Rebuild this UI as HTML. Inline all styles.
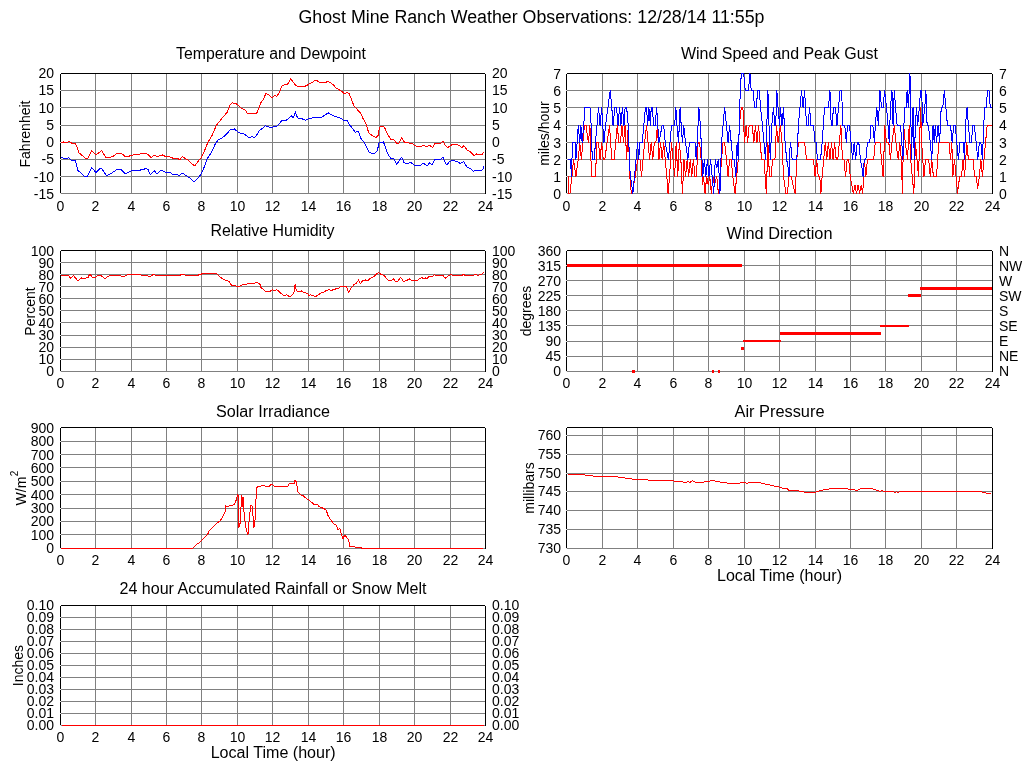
<!DOCTYPE html>
<html><head><meta charset="utf-8"><title>Ghost Mine Ranch Weather Observations</title>
<style>html,body{margin:0;padding:0;background:#fff;width:1024px;height:768px;overflow:hidden}
svg{display:block;will-change:transform} text{font-family:'Liberation Sans', Arial, Helvetica, sans-serif;fill:#000}</style></head>
<body><svg width="1024" height="768" viewBox="0 0 1024 768" shape-rendering="crispEdges">

<rect width="1024" height="768" fill="#fff"/>
<rect x="95" y="74" width="1" height="120" fill="#808080"/>
<rect x="131" y="74" width="1" height="120" fill="#808080"/>
<rect x="166" y="74" width="1" height="120" fill="#808080"/>
<rect x="201" y="74" width="1" height="120" fill="#808080"/>
<rect x="237" y="74" width="1" height="120" fill="#808080"/>
<rect x="272" y="74" width="1" height="120" fill="#808080"/>
<rect x="308" y="74" width="1" height="120" fill="#808080"/>
<rect x="343" y="74" width="1" height="120" fill="#808080"/>
<rect x="379" y="74" width="1" height="120" fill="#808080"/>
<rect x="414" y="74" width="1" height="120" fill="#808080"/>
<rect x="450" y="74" width="1" height="120" fill="#808080"/>
<rect x="61" y="73" width="424" height="1" fill="#000"/>
<rect x="60" y="74" width="1" height="119" fill="#000"/>
<rect x="485" y="74" width="1" height="120" fill="#000"/>
<rect x="61" y="90" width="424" height="1" fill="#808080"/>
<rect x="60" y="90" width="1" height="1" fill="#e4e4e4"/>
<rect x="61" y="107" width="424" height="1" fill="#808080"/>
<rect x="60" y="107" width="1" height="1" fill="#e4e4e4"/>
<rect x="61" y="125" width="424" height="1" fill="#808080"/>
<rect x="60" y="125" width="1" height="1" fill="#e4e4e4"/>
<rect x="61" y="142" width="424" height="1" fill="#808080"/>
<rect x="60" y="142" width="1" height="1" fill="#e4e4e4"/>
<rect x="61" y="159" width="424" height="1" fill="#808080"/>
<rect x="60" y="159" width="1" height="1" fill="#e4e4e4"/>
<rect x="61" y="176" width="424" height="1" fill="#808080"/>
<rect x="60" y="176" width="1" height="1" fill="#e4e4e4"/>
<rect x="61" y="193" width="424" height="1" fill="#808080"/>
<rect x="60" y="193" width="1" height="1" fill="#e4e4e4"/>
<polyline points="61.25,142.38 63.5,142.0 66.62,142.75 69.12,141.12 71.62,143.25 75.38,143.62 77.25,147.38 79.12,153.0 82.25,155.5 85.38,158.25 87.88,158.62 91.62,150.75 96.0,154.88 101.62,150.75 106.0,157.38 109.75,157.38 112.88,156.5 117.25,153.25 121.0,153.0 125.38,156.75 128.5,156.75 130.38,155.5 132.25,155.5 135.38,154.0 137.88,154.88 141.0,153.62 144.75,153.0 147.88,154.25 151.0,157.75 154.12,154.88 157.25,156.75 162.25,154.88 166.0,156.75 168.5,156.12 171.0,157.38 174.12,158.62 177.25,158.25 179.75,159.88 182.25,156.75 188.41,160.22 191.53,163.34 194.66,166.0 197.78,161.78 201.69,157.09 204.81,150.06 207.94,142.25 211.84,136.0 214.19,130.53 216.53,125.06 219.66,121.16 223.56,116.47 227.47,111.78 229.81,105.53 232.16,102.88 235.28,103.19 238.41,105.53 241.53,108.66 244.66,109.44 247.78,113.81 251.69,113.81 256.38,113.81 258.72,108.66 261.06,102.41 263.41,99.28 265.75,93.81 268.88,94.59 272.0,97.72 274.34,95.38 276.69,96.16 279.03,93.03 282.16,85.69 285.28,84.75 287.62,84.12 290.75,78.97 293.09,82.09 295.44,85.22 298.56,86.78 303.25,86.78 306.38,85.69 309.5,83.66 312.62,82.09 315.44,80.06 318.09,81.31 320.44,82.88 324.34,82.88 327.47,81.62 330.59,82.56 333.72,85.22 336.06,87.88 339.19,89.59 340.5,90.69 342.84,92.25 344.41,93.81 347.53,92.56 349.09,93.5 351.44,99.28 353.78,105.53 356.91,109.12 360.81,113.34 363.16,118.81 366.28,124.28 368.62,132.56 371.75,135.22 375.66,137.56 378.0,135.69 379.56,127.41 381.44,126.31 384.25,126.94 387.38,133.66 390.5,139.12 393.62,139.12 396.75,143.5 399.09,143.03 401.75,137.88 404.56,142.25 409.25,143.03 412.38,143.81 415.5,145.69 418.62,146.94 420.97,146.62 423.31,145.06 426.44,146.62 429.56,145.38 432.69,147.72 435.03,143.5 437.38,143.03 440.5,143.5 442.84,141.0 445.19,145.38 447.53,147.72 449.88,146.16 453.0,144.12 456.12,144.59 459.25,145.38 461.59,147.72 463.94,145.69 467.06,150.06 470.19,151.62 474.09,155.53 476.44,153.97 479.56,154.44 481.91,154.75 483.94,151.94" fill="none" stroke="#ff0000" stroke-width="1" stroke-linejoin="round"/>
<polyline points="61.25,157.75 66.0,158.62 68.5,157.75 71.0,160.25 75.38,160.5 77.88,170.5 81.0,173.0 84.75,176.5 87.25,176.75 91.62,167.75 96.0,172.38 101.0,167.75 106.62,175.75 111.0,173.62 117.25,169.25 121.0,169.25 125.38,174.0 129.75,171.75 132.88,170.25 137.25,170.75 141.0,169.88 146.0,168.62 147.88,169.25 150.38,174.88 154.12,170.75 157.25,174.0 160.38,170.75 164.12,171.12 166.0,173.0 169.75,172.0 172.88,174.88 176.62,174.0 179.12,175.75 182.25,173.0 187.62,176.62 190.75,178.5 193.88,181.62 196.22,180.06 199.34,176.62 202.47,171.16 204.81,165.69 207.16,158.66 210.28,153.97 212.62,150.06 214.97,144.59 218.09,139.91 222.0,137.88 225.12,135.69 228.25,132.09 230.59,129.44 234.5,128.97 238.41,132.56 241.53,133.66 244.66,134.12 248.56,137.56 251.69,136.78 254.81,137.56 257.16,134.44 259.5,130.53 262.62,128.19 264.97,125.84 268.09,126.62 270.44,127.88 273.56,126.62 277.47,125.84 279.81,123.19 282.16,120.06 285.28,120.69 288.41,118.81 291.53,115.69 293.09,118.03 294.66,114.91 295.44,111.78 296.22,114.91 298.25,118.81 300.91,118.03 303.25,119.59 305.59,120.06 308.72,118.81 311.84,118.03 314.19,117.25 317.31,118.03 322.0,116.94 325.12,114.91 328.25,112.88 330.59,114.12 333.72,116.0 336.84,116.94 339.97,118.03 340.5,118.03 343.62,120.38 346.75,120.06 349.09,124.28 352.22,128.19 355.34,132.09 358.47,131.62 360.81,138.34 363.94,142.25 366.28,146.16 368.62,151.62 371.75,153.5 374.09,153.97 377.22,150.84 379.25,142.25 381.12,143.03 383.47,141.94 385.81,148.5 388.16,154.75 391.28,158.66 393.62,158.66 396.75,164.12 399.09,161.0 401.75,157.09 403.78,162.25 406.91,163.81 410.81,162.56 413.94,164.91 417.84,166.0 420.19,165.38 423.31,163.34 427.22,165.69 429.56,162.88 431.91,164.91 435.03,159.44 437.38,159.44 440.5,159.75 442.84,157.09 444.41,161.0 446.75,164.91 449.88,161.31 453.0,160.69 456.91,161.31 460.03,163.34 463.94,161.78 467.06,167.25 470.97,169.12 473.31,171.16 476.44,170.06 480.34,170.69 482.69,169.59 484.25,165.69" fill="none" stroke="#0000ff" stroke-width="1" stroke-linejoin="round"/>
<rect x="602" y="74" width="1" height="120" fill="#808080"/>
<rect x="637" y="74" width="1" height="120" fill="#808080"/>
<rect x="673" y="74" width="1" height="120" fill="#808080"/>
<rect x="708" y="74" width="1" height="120" fill="#808080"/>
<rect x="744" y="74" width="1" height="120" fill="#808080"/>
<rect x="779" y="74" width="1" height="120" fill="#808080"/>
<rect x="815" y="74" width="1" height="120" fill="#808080"/>
<rect x="850" y="74" width="1" height="120" fill="#808080"/>
<rect x="885" y="74" width="1" height="120" fill="#808080"/>
<rect x="921" y="74" width="1" height="120" fill="#808080"/>
<rect x="956" y="74" width="1" height="120" fill="#808080"/>
<rect x="567" y="73" width="425" height="1" fill="#000"/>
<rect x="566" y="74" width="1" height="119" fill="#000"/>
<rect x="992" y="74" width="1" height="120" fill="#000"/>
<rect x="567" y="90" width="425" height="1" fill="#808080"/>
<rect x="566" y="90" width="1" height="1" fill="#e4e4e4"/>
<rect x="567" y="107" width="425" height="1" fill="#808080"/>
<rect x="566" y="107" width="1" height="1" fill="#e4e4e4"/>
<rect x="567" y="125" width="425" height="1" fill="#808080"/>
<rect x="566" y="125" width="1" height="1" fill="#e4e4e4"/>
<rect x="567" y="142" width="425" height="1" fill="#808080"/>
<rect x="566" y="142" width="1" height="1" fill="#e4e4e4"/>
<rect x="567" y="159" width="425" height="1" fill="#808080"/>
<rect x="566" y="159" width="1" height="1" fill="#e4e4e4"/>
<rect x="567" y="176" width="425" height="1" fill="#808080"/>
<rect x="566" y="176" width="1" height="1" fill="#e4e4e4"/>
<rect x="567" y="193" width="425" height="1" fill="#808080"/>
<rect x="566" y="193" width="1" height="1" fill="#e4e4e4"/>
<polyline points="568.53,176.5 568.69,193.5 569.94,193.5 571.97,176.5 573.53,159.5 575.88,176.5 578.22,159.5 579.78,142.5 581.34,159.5 582.91,142.5 584.47,125.5 586.03,125.5 588.38,142.5 589.94,125.5 591.5,176.5 593.06,176.5 595.41,176.5 596.97,142.5 598.53,142.5 600.09,159.5 601.66,142.5 603.22,159.5 604.78,159.5 607.12,142.5 609.47,125.5 611.81,159.5 614.16,159.5 615.72,142.5 617.28,125.5 618.84,142.5 620.41,142.5 621.97,125.5 623.53,142.5 625.09,125.5 626.66,159.5 628.22,125.5 629.78,176.5 631.34,193.5 633.69,185.0 635.25,176.5 637.59,159.5 639.94,159.5 641.5,176.5 643.06,159.5 644.62,142.5 646.5,125.5 648.06,142.5 649.62,159.5 651.19,142.5 652.75,159.5 654.31,142.5 655.88,142.5 657.44,125.5 659.0,159.5 660.56,142.5 662.12,159.5 663.69,142.5 665.25,159.5 666.81,176.5 668.06,193.5 669.62,176.5 671.5,142.5 673.06,159.5 674.62,176.5 676.19,142.5 677.75,176.5 679.31,142.5 680.88,159.5 682.44,193.5 684.0,159.5 685.56,176.5 687.12,159.5 688.69,176.5 690.25,159.5 691.81,176.5 693.38,159.5 694.94,176.5 696.5,176.5 698.06,142.5 699.62,142.5 701.19,159.5 702.44,185.0 703.53,176.5 705.09,193.5 706.66,176.5 708.22,185.0 709.78,176.5 711.34,193.5 712.91,176.5 714.47,185.0 716.81,176.5 718.38,193.5 719.94,185.0 721.5,159.5 723.06,142.5 724.62,142.5 726.5,159.5 728.06,176.5 729.62,159.5 731.19,159.5 732.75,176.5 735.09,193.5 736.66,176.5 738.22,159.5 739.31,125.5 741.34,107.5 742.91,107.5 744.47,142.5 746.03,125.5 747.59,142.5 749.16,125.5 750.72,125.5 752.28,125.5 753.84,142.5 755.41,125.5 756.97,142.5 758.53,125.5 760.09,142.5 761.66,159.5 764.0,159.5 766.34,193.5 767.91,142.5 769.47,176.5 771.03,176.5 772.59,159.5 774.94,159.5 776.5,125.5 778.06,142.5 780.41,125.5 781.97,142.5 783.53,176.5 785.88,193.5 787.44,193.5 789.0,176.5 791.34,176.5 792.91,185.0 795.25,193.5 796.81,159.5 798.38,142.5 799.94,142.5 803.06,142.5 804.62,142.5 806.5,159.5 813.53,159.5 815.09,176.5 816.66,159.5 818.22,176.5 819.78,176.5 820.88,193.5 822.12,176.5 823.69,159.5 825.25,142.5 826.81,159.5 828.38,142.5 829.94,159.5 831.5,142.5 833.06,159.5 834.62,142.5 836.19,159.5 837.75,159.5 839.31,142.5 840.88,125.5 842.44,159.5 844.0,159.5 845.56,176.5 847.12,159.5 848.69,159.5 850.25,176.5 851.81,185.0 853.38,193.5 854.94,185.0 856.5,193.5 858.06,185.0 859.62,193.5 861.19,185.0 862.75,193.5 864.31,159.5 865.88,176.5 867.44,159.5 869.0,159.5 873.69,159.5 875.25,142.5 879.94,142.5 883.06,176.5 883.84,159.5 884.62,125.5 886.5,142.5 888.84,142.5 890.41,159.5 891.97,142.5 894.31,125.5 895.88,142.5 898.22,159.5 899.78,142.5 901.34,159.5 902.44,193.5 903.69,125.5 905.25,142.5 907.59,159.5 909.16,125.5 910.72,159.5 912.28,176.5 913.84,193.5 915.41,142.5 916.97,159.5 918.53,176.5 919.62,142.5 920.56,107.5 921.66,142.5 922.75,159.5 924.0,176.5 925.56,159.5 927.12,159.5 928.69,159.5 930.25,176.5 931.81,159.5 933.38,176.5 934.94,176.5 936.5,176.5 938.84,142.5 940.41,142.5 945.88,142.5 949.0,142.5 950.56,159.5 951.81,142.5 952.91,176.5 954.47,159.5 956.03,176.5 957.59,193.5 958.38,185.0 959.94,176.5 961.5,176.5 963.06,159.5 964.62,176.5 966.81,142.5 968.38,159.5 971.5,159.5 973.06,159.5 974.62,176.5 976.19,176.5 977.75,188.4 979.31,176.5 980.88,159.5 982.44,176.5 984.0,159.5 985.56,142.5 987.12,125.5 989.47,125.5 991.5,125.5" fill="none" stroke="#ff0000" stroke-width="1" stroke-linejoin="round"/>
<polyline points="567.59,159.5 570.41,159.5 571.5,176.5 572.44,142.5 575.09,142.5 575.88,159.5 577.12,142.5 578.22,125.5 579.78,142.5 580.88,125.5 582.12,142.5 583.69,125.5 584.94,107.5 589.94,107.5 591.19,125.5 592.28,159.5 594.31,159.5 595.41,142.5 596.97,125.5 598.53,107.5 600.09,125.5 601.66,107.5 602.75,125.5 604.0,142.5 605.56,125.5 607.91,107.5 610.25,90.5 611.81,107.5 613.06,125.5 614.94,107.5 616.5,107.5 618.06,125.5 619.62,107.5 620.88,125.5 622.44,107.5 624.0,125.5 625.09,107.5 626.66,107.5 628.22,125.5 629.78,168.0 630.56,176.5 632.91,193.5 634.47,176.5 636.03,159.5 637.59,142.5 638.69,159.5 639.94,142.5 642.28,142.5 643.84,125.5 645.41,107.5 646.5,107.5 647.75,125.5 648.84,107.5 650.41,125.5 651.19,107.5 652.44,107.5 653.53,125.5 655.09,125.5 656.66,107.5 657.75,125.5 659.0,142.5 660.56,134.0 662.12,125.5 663.69,125.5 665.25,142.5 668.38,159.5 669.94,142.5 671.5,125.5 674.62,125.5 675.88,107.5 676.97,125.5 678.53,142.5 680.09,107.5 681.19,125.5 682.44,142.5 683.69,125.5 685.56,142.5 687.91,159.5 689.47,142.5 693.38,142.5 694.94,142.5 696.19,159.5 697.28,142.5 698.84,107.5 700.41,125.5 701.97,159.5 702.75,176.5 704.31,159.5 705.88,176.5 707.44,159.5 709.0,176.5 710.56,159.5 712.12,176.5 713.69,193.5 715.25,159.5 716.81,168.0 718.38,159.5 719.94,193.5 721.5,142.5 723.06,125.5 724.62,107.5 726.5,125.5 728.06,142.5 729.62,125.5 731.19,142.5 732.75,159.5 734.31,159.5 735.88,176.5 737.12,142.5 738.22,159.5 739.31,125.5 740.25,90.5 741.34,73.5 743.69,73.5 745.25,90.5 746.81,90.5 748.38,90.5 749.94,73.5 751.19,90.5 753.06,90.5 754.62,107.5 756.19,107.5 757.75,90.5 759.31,90.5 760.56,107.5 762.44,125.5 764.0,142.5 765.56,159.5 766.81,125.5 767.91,90.5 769.0,125.5 770.25,159.5 771.81,125.5 773.38,107.5 774.94,125.5 775.72,125.5 776.81,90.5 778.06,107.5 779.62,125.5 780.41,107.5 781.97,125.5 783.53,107.5 785.09,142.5 786.66,159.5 788.22,168.0 789.0,176.5 789.78,151.0 790.56,142.5 792.12,159.5 795.25,159.5 796.81,159.5 798.38,125.5 799.94,107.5 801.5,90.5 803.06,107.5 804.62,90.5 806.5,125.5 808.06,125.5 809.62,107.5 810.88,125.5 813.53,125.5 815.09,142.5 816.19,142.5 817.44,159.5 819.0,159.5 820.56,159.5 822.12,142.5 823.38,125.5 824.47,107.5 828.38,107.5 829.94,90.5 831.19,125.5 832.28,125.5 833.38,107.5 835.41,107.5 836.97,125.5 838.53,107.5 840.09,90.5 841.66,90.5 842.75,125.5 844.78,125.5 846.34,142.5 847.44,125.5 849.47,125.5 851.03,142.5 852.59,159.5 854.16,142.5 855.72,159.5 857.28,142.5 858.84,142.5 860.41,159.5 861.97,168.0 863.06,176.5 864.31,159.5 865.88,159.5 867.44,142.5 869.78,142.5 870.88,125.5 872.91,125.5 874.47,142.5 875.25,125.5 876.81,107.5 878.38,125.5 879.94,90.5 881.5,107.5 883.06,107.5 884.62,90.5 886.5,107.5 888.06,125.5 889.31,142.5 890.41,107.5 891.97,90.5 893.06,125.5 894.31,90.5 895.56,107.5 897.12,125.5 899.0,125.5 900.56,125.5 901.81,142.5 902.91,159.5 904.47,107.5 906.03,107.5 907.12,90.5 908.38,107.5 909.16,90.5 909.94,73.5 910.72,107.5 911.5,159.5 912.28,125.5 913.06,107.5 914.31,159.5 915.41,125.5 916.5,107.5 917.75,125.5 919.31,107.5 920.56,90.5 921.66,90.5 922.75,125.5 924.78,107.5 925.88,90.5 927.12,125.5 928.38,125.5 930.25,142.5 931.81,159.5 933.06,125.5 934.16,142.5 935.25,125.5 936.5,142.5 938.06,125.5 939.62,142.5 941.19,107.5 942.75,107.5 944.31,90.5 945.88,107.5 947.44,125.5 949.0,125.5 950.56,125.5 952.12,142.5 953.69,125.5 955.25,125.5 956.81,142.5 958.38,159.5 959.94,142.5 961.5,142.5 963.06,142.5 964.62,159.5 965.41,125.5 967.12,107.5 968.38,125.5 969.94,142.5 971.5,142.5 972.75,125.5 974.31,125.5 976.19,142.5 977.75,159.5 979.31,142.5 980.88,142.5 982.44,159.5 983.69,125.5 984.78,107.5 986.34,107.5 987.44,90.5 989.0,90.5 990.25,107.5 991.5,107.5" fill="none" stroke="#0000ff" stroke-width="1" stroke-linejoin="round"/>
<rect x="95" y="251" width="1" height="121" fill="#808080"/>
<rect x="131" y="251" width="1" height="121" fill="#808080"/>
<rect x="166" y="251" width="1" height="121" fill="#808080"/>
<rect x="201" y="251" width="1" height="121" fill="#808080"/>
<rect x="237" y="251" width="1" height="121" fill="#808080"/>
<rect x="272" y="251" width="1" height="121" fill="#808080"/>
<rect x="308" y="251" width="1" height="121" fill="#808080"/>
<rect x="343" y="251" width="1" height="121" fill="#808080"/>
<rect x="379" y="251" width="1" height="121" fill="#808080"/>
<rect x="414" y="251" width="1" height="121" fill="#808080"/>
<rect x="450" y="251" width="1" height="121" fill="#808080"/>
<rect x="61" y="250" width="424" height="1" fill="#000"/>
<rect x="60" y="251" width="1" height="120" fill="#000"/>
<rect x="485" y="251" width="1" height="121" fill="#000"/>
<rect x="61" y="262" width="424" height="1" fill="#808080"/>
<rect x="60" y="262" width="1" height="1" fill="#e4e4e4"/>
<rect x="61" y="274" width="424" height="1" fill="#808080"/>
<rect x="60" y="274" width="1" height="1" fill="#e4e4e4"/>
<rect x="61" y="286" width="424" height="1" fill="#808080"/>
<rect x="60" y="286" width="1" height="1" fill="#e4e4e4"/>
<rect x="61" y="298" width="424" height="1" fill="#808080"/>
<rect x="60" y="298" width="1" height="1" fill="#e4e4e4"/>
<rect x="61" y="310" width="424" height="1" fill="#808080"/>
<rect x="60" y="310" width="1" height="1" fill="#e4e4e4"/>
<rect x="61" y="322" width="424" height="1" fill="#808080"/>
<rect x="60" y="322" width="1" height="1" fill="#e4e4e4"/>
<rect x="61" y="335" width="424" height="1" fill="#808080"/>
<rect x="60" y="335" width="1" height="1" fill="#e4e4e4"/>
<rect x="61" y="347" width="424" height="1" fill="#808080"/>
<rect x="60" y="347" width="1" height="1" fill="#e4e4e4"/>
<rect x="61" y="359" width="424" height="1" fill="#808080"/>
<rect x="60" y="359" width="1" height="1" fill="#e4e4e4"/>
<rect x="61" y="371" width="424" height="1" fill="#808080"/>
<rect x="60" y="371" width="1" height="1" fill="#e4e4e4"/>
<polyline points="61.25,275.0 67.88,275.0 70.75,278.12 73.5,275.62 77.25,280.0 79.12,280.0 81.62,277.75 83.5,278.75 85.38,278.12 87.88,277.75 89.75,274.0 92.88,277.75 95.38,277.75 97.88,275.0 100.38,275.0 105.0,279.0 107.25,276.88 109.75,275.62 112.25,275.62 113.5,275.0 119.75,275.0 122.25,276.88 124.12,276.5 126.62,275.0 132.25,274.38 134.75,274.38 136.62,275.0 139.12,274.38 141.0,275.0 147.25,275.0 149.12,276.88 151.62,275.62 154.12,274.0 155.38,275.62 157.88,275.0 163.5,275.0 165.38,276.0 167.88,275.0 171.0,275.0 172.88,276.0 175.38,275.0 177.25,275.0 179.12,276.0 181.62,274.0 183.5,275.0 184.5,274.75 187.0,275.62 189.5,275.62 196.38,275.62 200.75,274.38 203.25,273.12 208.88,273.12 210.75,274.0 213.25,273.12 217.0,274.0 220.75,277.5 223.88,279.75 227.0,280.62 228.88,281.25 231.75,285.62 235.75,286.0 238.25,286.88 242.0,285.0 245.12,284.75 247.0,284.0 251.38,283.12 253.25,284.0 255.75,282.75 259.5,283.12 261.38,288.5 263.25,289.0 265.75,291.88 269.5,291.88 272.0,289.75 274.5,290.62 277.0,289.75 280.75,293.12 283.88,296.0 286.38,294.75 290.12,296.88 292.0,295.25 293.88,292.5 295.12,284.75 295.75,288.12 297.62,291.88 301.38,291.0 303.88,292.75 307.0,293.12 308.88,295.25 310.5,294.75 313.0,295.62 315.5,296.88 318.0,295.0 321.12,292.75 323.62,292.5 326.12,290.62 329.25,289.75 331.12,290.62 333.0,289.75 335.5,289.0 338.0,288.75 340.5,286.88 343.62,286.0 346.12,286.0 347.38,288.75 348.62,292.5 350.5,288.75 353.62,285.0 356.12,283.5 358.62,280.0 360.5,283.75 363.0,280.25 365.5,280.0 367.38,281.0 370.5,278.12 372.38,277.75 375.5,275.0 378.0,272.75 379.88,273.5 381.12,274.75 383.0,275.0 384.88,276.25 386.12,278.5 389.25,281.0 392.38,279.75 393.62,279.0 395.5,281.88 397.38,281.88 399.88,278.12 400.5,277.69 401.91,278.62 403.31,281.44 405.19,280.97 407.53,280.03 409.88,278.81 411.75,280.97 413.62,280.97 415.5,280.31 417.84,280.03 419.72,278.16 422.06,277.88 424.41,278.62 425.81,277.88 427.22,278.62 429.09,276.0 430.5,276.94 431.91,276.75 434.25,274.69 436.59,275.34 438.0,275.81 439.88,275.06 442.69,275.06 444.56,277.69 445.97,278.16 448.31,275.34 450.19,274.88 453.0,275.06 454.88,275.81 457.22,275.34 458.62,275.06 460.5,276.0 462.38,275.06 463.78,274.41 465.19,275.81 467.06,275.06 468.94,275.81 470.34,275.34 471.75,276.0 473.62,275.06 475.5,274.41 476.91,275.06 478.78,275.06 480.19,273.94 481.59,274.88 483.0,273.0 484.41,272.81" fill="none" stroke="#ff0000" stroke-width="1" stroke-linejoin="round"/>
<rect x="602" y="251" width="1" height="121" fill="#808080"/>
<rect x="637" y="251" width="1" height="121" fill="#808080"/>
<rect x="673" y="251" width="1" height="121" fill="#808080"/>
<rect x="708" y="251" width="1" height="121" fill="#808080"/>
<rect x="744" y="251" width="1" height="121" fill="#808080"/>
<rect x="779" y="251" width="1" height="121" fill="#808080"/>
<rect x="815" y="251" width="1" height="121" fill="#808080"/>
<rect x="850" y="251" width="1" height="121" fill="#808080"/>
<rect x="885" y="251" width="1" height="121" fill="#808080"/>
<rect x="921" y="251" width="1" height="121" fill="#808080"/>
<rect x="956" y="251" width="1" height="121" fill="#808080"/>
<rect x="567" y="250" width="425" height="1" fill="#000"/>
<rect x="566" y="251" width="1" height="120" fill="#000"/>
<rect x="992" y="251" width="1" height="121" fill="#000"/>
<rect x="567" y="265" width="425" height="1" fill="#808080"/>
<rect x="566" y="265" width="1" height="1" fill="#e4e4e4"/>
<rect x="567" y="280" width="425" height="1" fill="#808080"/>
<rect x="566" y="280" width="1" height="1" fill="#e4e4e4"/>
<rect x="567" y="295" width="425" height="1" fill="#808080"/>
<rect x="566" y="295" width="1" height="1" fill="#e4e4e4"/>
<rect x="567" y="310" width="425" height="1" fill="#808080"/>
<rect x="566" y="310" width="1" height="1" fill="#e4e4e4"/>
<rect x="567" y="325" width="425" height="1" fill="#808080"/>
<rect x="566" y="325" width="1" height="1" fill="#e4e4e4"/>
<rect x="567" y="341" width="425" height="1" fill="#808080"/>
<rect x="566" y="341" width="1" height="1" fill="#e4e4e4"/>
<rect x="567" y="356" width="425" height="1" fill="#808080"/>
<rect x="566" y="356" width="1" height="1" fill="#e4e4e4"/>
<rect x="567" y="371" width="425" height="1" fill="#808080"/>
<rect x="566" y="371" width="1" height="1" fill="#e4e4e4"/>
<rect x="567" y="264" width="175" height="3" fill="#ff0000"/>
<rect x="741" y="347" width="3" height="3" fill="#ff0000"/>
<rect x="743" y="340" width="38" height="2" fill="#ff0000"/>
<rect x="780" y="332" width="101" height="3" fill="#ff0000"/>
<rect x="880" y="325" width="29" height="2" fill="#ff0000"/>
<rect x="908" y="294" width="13" height="3" fill="#ff0000"/>
<rect x="920" y="287" width="72" height="3" fill="#ff0000"/>
<rect x="632" y="370" width="3" height="3" fill="#ff0000"/>
<rect x="712" y="370" width="2" height="3" fill="#ff0000"/>
<rect x="718" y="370" width="2" height="3" fill="#ff0000"/>
<rect x="95" y="428" width="1" height="121" fill="#808080"/>
<rect x="131" y="428" width="1" height="121" fill="#808080"/>
<rect x="166" y="428" width="1" height="121" fill="#808080"/>
<rect x="201" y="428" width="1" height="121" fill="#808080"/>
<rect x="237" y="428" width="1" height="121" fill="#808080"/>
<rect x="272" y="428" width="1" height="121" fill="#808080"/>
<rect x="308" y="428" width="1" height="121" fill="#808080"/>
<rect x="343" y="428" width="1" height="121" fill="#808080"/>
<rect x="379" y="428" width="1" height="121" fill="#808080"/>
<rect x="414" y="428" width="1" height="121" fill="#808080"/>
<rect x="450" y="428" width="1" height="121" fill="#808080"/>
<rect x="61" y="427" width="424" height="1" fill="#000"/>
<rect x="60" y="428" width="1" height="120" fill="#000"/>
<rect x="485" y="428" width="1" height="121" fill="#000"/>
<rect x="61" y="441" width="424" height="1" fill="#808080"/>
<rect x="60" y="441" width="1" height="1" fill="#e4e4e4"/>
<rect x="61" y="454" width="424" height="1" fill="#808080"/>
<rect x="60" y="454" width="1" height="1" fill="#e4e4e4"/>
<rect x="61" y="467" width="424" height="1" fill="#808080"/>
<rect x="60" y="467" width="1" height="1" fill="#e4e4e4"/>
<rect x="61" y="481" width="424" height="1" fill="#808080"/>
<rect x="60" y="481" width="1" height="1" fill="#e4e4e4"/>
<rect x="61" y="494" width="424" height="1" fill="#808080"/>
<rect x="60" y="494" width="1" height="1" fill="#e4e4e4"/>
<rect x="61" y="508" width="424" height="1" fill="#808080"/>
<rect x="60" y="508" width="1" height="1" fill="#e4e4e4"/>
<rect x="61" y="521" width="424" height="1" fill="#808080"/>
<rect x="60" y="521" width="1" height="1" fill="#e4e4e4"/>
<rect x="61" y="534" width="424" height="1" fill="#808080"/>
<rect x="60" y="534" width="1" height="1" fill="#e4e4e4"/>
<rect x="61" y="548" width="424" height="1" fill="#808080"/>
<rect x="60" y="548" width="1" height="1" fill="#e4e4e4"/>
<polyline points="61.5,548.5 191.44,548.62 193.52,547.58 197.17,543.94 199.77,542.38 202.9,539.25 207.58,534.56 209.15,530.92 213.83,526.23 217.48,522.58 219.56,521.54 222.17,517.9 223.21,515.29 225.29,511.65 225.81,505.92 226.85,506.96 229.46,505.92 232.06,505.71 234.15,504.35 235.71,501.75 236.75,497.58 237.58,494.98 238.1,495.5 238.31,508.0 238.83,527.79 239.35,523.62 239.88,526.75 240.4,517.38 240.92,509.04 241.65,495.5 242.17,499.67 242.69,506.96 243.0,496.54 243.52,508.0 244.56,517.38 246.12,528.31 247.69,534.04 248.42,533.52 249.25,517.38 250.29,510.08 251.02,504.88 252.17,506.44 252.9,514.25 253.94,527.79 254.67,522.58 255.5,516.33 256.02,498.62 257.06,486.96 260.19,486.65 261.23,485.92 264.88,485.92 265.92,486.96 269.04,486.65 270.6,485.08 272.06,483.83 274.67,486.96 276.23,485.92 277.79,486.96 287.69,486.96 289.25,483.0 293.42,483.0 294.46,483.83 294.98,480.08 296.02,481.44 297.06,486.12 298.1,492.38 300.71,494.98 302.79,495.5 305.92,498.1 309.04,500.19 312.17,502.79 314.77,504.88 317.38,504.04 318.94,506.44 321.54,507.48 323.62,508.52 326.23,510.08 327.27,513.21 328.31,516.33 330.92,519.98 333.52,523.62 335.6,524.67 337.17,527.27 338.21,530.08 339.25,528.31 340.08,528.83 340.81,531.96 342.38,537.17 342.9,539.04 344.46,535.6 345.5,535.92 348.62,539.77 349.67,546.54 352.79,546.75 355.92,547.06 356.96,547.79 361.12,547.79 362.17,548.62 483.5,548.5" fill="none" stroke="#ff0000" stroke-width="1" stroke-linejoin="round"/>
<rect x="602" y="428" width="1" height="121" fill="#808080"/>
<rect x="637" y="428" width="1" height="121" fill="#808080"/>
<rect x="673" y="428" width="1" height="121" fill="#808080"/>
<rect x="708" y="428" width="1" height="121" fill="#808080"/>
<rect x="744" y="428" width="1" height="121" fill="#808080"/>
<rect x="779" y="428" width="1" height="121" fill="#808080"/>
<rect x="815" y="428" width="1" height="121" fill="#808080"/>
<rect x="850" y="428" width="1" height="121" fill="#808080"/>
<rect x="885" y="428" width="1" height="121" fill="#808080"/>
<rect x="921" y="428" width="1" height="121" fill="#808080"/>
<rect x="956" y="428" width="1" height="121" fill="#808080"/>
<rect x="567" y="427" width="425" height="1" fill="#000"/>
<rect x="566" y="428" width="1" height="120" fill="#000"/>
<rect x="992" y="428" width="1" height="121" fill="#000"/>
<rect x="567" y="435" width="425" height="1" fill="#808080"/>
<rect x="566" y="435" width="1" height="1" fill="#e4e4e4"/>
<rect x="567" y="454" width="425" height="1" fill="#808080"/>
<rect x="566" y="454" width="1" height="1" fill="#e4e4e4"/>
<rect x="567" y="473" width="425" height="1" fill="#808080"/>
<rect x="566" y="473" width="1" height="1" fill="#e4e4e4"/>
<rect x="567" y="491" width="425" height="1" fill="#808080"/>
<rect x="566" y="491" width="1" height="1" fill="#e4e4e4"/>
<rect x="567" y="510" width="425" height="1" fill="#808080"/>
<rect x="566" y="510" width="1" height="1" fill="#e4e4e4"/>
<rect x="567" y="529" width="425" height="1" fill="#808080"/>
<rect x="566" y="529" width="1" height="1" fill="#e4e4e4"/>
<rect x="567" y="548" width="425" height="1" fill="#808080"/>
<rect x="566" y="548" width="1" height="1" fill="#e4e4e4"/>
<polyline points="567.5,474.5 584.5,474.5 585.5,475.5 592.5,475.5 593.5,476.5 617.5,476.5 618.5,477.5 624.5,477.5 625.5,478.5 631.5,478.5 632.5,479.5 647.5,479.5 648.5,480.5 673.5,480.5 674.5,481.5 682.5,481.5 683.5,482.5 686.5,482.5 687.5,481.5 688.5,481.5 689.5,482.5 690.5,482.5 690.5,481.5 691.5,481.5 692.5,480.5 692.5,480.5 693.5,481.5 694.5,481.5 695.5,482.5 703.5,482.5 704.5,481.5 709.5,481.5 710.5,480.5 714.5,480.5 715.5,481.5 719.5,481.5 720.5,482.5 726.5,482.5 727.5,483.5 739.5,483.5 740.5,482.5 745.5,482.5 746.5,483.5 747.5,483.5 748.5,482.5 760.5,482.5 761.5,483.5 764.5,483.5 765.5,484.5 769.5,484.5 770.5,485.5 773.5,485.5 774.5,486.5 778.5,486.5 779.5,487.5 781.5,487.5 782.5,488.5 787.5,488.5 788.5,490.5 798.5,490.5 799.5,491.5 803.5,491.5 804.5,492.5 815.5,492.5 814.5,492.5 815.5,492.5 816.5,491.5 818.5,491.5 819.5,490.5 822.5,490.5 823.5,489.5 828.5,489.5 829.5,488.5 847.5,488.5 848.5,489.5 854.5,489.5 855.5,490.5 857.5,490.5 858.5,489.5 859.5,489.5 860.5,488.5 872.5,488.5 873.5,489.5 875.5,489.5 876.5,490.5 878.5,490.5 879.5,491.5 880.5,491.5 881.5,490.5 882.5,490.5 883.5,491.5 893.5,491.5 894.5,492.5 895.5,492.5 896.5,491.5 896.5,491.5 897.5,492.5 898.5,492.5 899.5,491.5 981.5,491.5 982.5,492.5 985.5,492.5 986.5,493.5 990.5,493.5" fill="none" stroke="#ff0000" stroke-width="1" stroke-linejoin="round"/>
<rect x="95" y="606" width="1" height="120" fill="#808080"/>
<rect x="131" y="606" width="1" height="120" fill="#808080"/>
<rect x="166" y="606" width="1" height="120" fill="#808080"/>
<rect x="201" y="606" width="1" height="120" fill="#808080"/>
<rect x="237" y="606" width="1" height="120" fill="#808080"/>
<rect x="272" y="606" width="1" height="120" fill="#808080"/>
<rect x="308" y="606" width="1" height="120" fill="#808080"/>
<rect x="343" y="606" width="1" height="120" fill="#808080"/>
<rect x="379" y="606" width="1" height="120" fill="#808080"/>
<rect x="414" y="606" width="1" height="120" fill="#808080"/>
<rect x="450" y="606" width="1" height="120" fill="#808080"/>
<rect x="61" y="605" width="424" height="1" fill="#000"/>
<rect x="60" y="606" width="1" height="119" fill="#000"/>
<rect x="485" y="606" width="1" height="120" fill="#000"/>
<rect x="61" y="617" width="424" height="1" fill="#808080"/>
<rect x="60" y="617" width="1" height="1" fill="#e4e4e4"/>
<rect x="61" y="629" width="424" height="1" fill="#808080"/>
<rect x="60" y="629" width="1" height="1" fill="#e4e4e4"/>
<rect x="61" y="641" width="424" height="1" fill="#808080"/>
<rect x="60" y="641" width="1" height="1" fill="#e4e4e4"/>
<rect x="61" y="653" width="424" height="1" fill="#808080"/>
<rect x="60" y="653" width="1" height="1" fill="#e4e4e4"/>
<rect x="61" y="665" width="424" height="1" fill="#808080"/>
<rect x="60" y="665" width="1" height="1" fill="#e4e4e4"/>
<rect x="61" y="677" width="424" height="1" fill="#808080"/>
<rect x="60" y="677" width="1" height="1" fill="#e4e4e4"/>
<rect x="61" y="689" width="424" height="1" fill="#808080"/>
<rect x="60" y="689" width="1" height="1" fill="#e4e4e4"/>
<rect x="61" y="701" width="424" height="1" fill="#808080"/>
<rect x="60" y="701" width="1" height="1" fill="#e4e4e4"/>
<rect x="61" y="713" width="424" height="1" fill="#808080"/>
<rect x="60" y="713" width="1" height="1" fill="#e4e4e4"/>
<rect x="61" y="725" width="424" height="1" fill="#808080"/>
<rect x="60" y="725" width="1" height="1" fill="#e4e4e4"/>
<polyline points="61.5,725.5 483.5,725.5" fill="none" stroke="#ff0000" stroke-width="1" stroke-linejoin="round"/>
<g>
<text x="54" y="78" font-size="14" text-anchor="end">20</text>
<text x="492" y="78" font-size="14" text-anchor="start">20</text>
<text x="54" y="95" font-size="14" text-anchor="end">15</text>
<text x="492" y="95" font-size="14" text-anchor="start">15</text>
<text x="54" y="113" font-size="14" text-anchor="end">10</text>
<text x="492" y="113" font-size="14" text-anchor="start">10</text>
<text x="54" y="130" font-size="14" text-anchor="end">5</text>
<text x="492" y="130" font-size="14" text-anchor="start">5</text>
<text x="54" y="147" font-size="14" text-anchor="end">0</text>
<text x="492" y="147" font-size="14" text-anchor="start">0</text>
<text x="54" y="164" font-size="14" text-anchor="end">-5</text>
<text x="492" y="164" font-size="14" text-anchor="start">-5</text>
<text x="54" y="182" font-size="14" text-anchor="end">-10</text>
<text x="492" y="182" font-size="14" text-anchor="start">-10</text>
<text x="54" y="199" font-size="14" text-anchor="end">-15</text>
<text x="492" y="199" font-size="14" text-anchor="start">-15</text>
<text x="60.5" y="211" font-size="14" text-anchor="middle">0</text>
<text x="95.5" y="211" font-size="14" text-anchor="middle">2</text>
<text x="131.5" y="211" font-size="14" text-anchor="middle">4</text>
<text x="166.5" y="211" font-size="14" text-anchor="middle">6</text>
<text x="201.5" y="211" font-size="14" text-anchor="middle">8</text>
<text x="237.5" y="211" font-size="14" text-anchor="middle">10</text>
<text x="272.5" y="211" font-size="14" text-anchor="middle">12</text>
<text x="308.5" y="211" font-size="14" text-anchor="middle">14</text>
<text x="343.5" y="211" font-size="14" text-anchor="middle">16</text>
<text x="379.5" y="211" font-size="14" text-anchor="middle">18</text>
<text x="414.5" y="211" font-size="14" text-anchor="middle">20</text>
<text x="450.5" y="211" font-size="14" text-anchor="middle">22</text>
<text x="485.5" y="211" font-size="14" text-anchor="middle">24</text>
<text x="561" y="79" font-size="14" text-anchor="end">7</text>
<text x="999" y="79" font-size="14" text-anchor="start">7</text>
<text x="561" y="96" font-size="14" text-anchor="end">6</text>
<text x="999" y="96" font-size="14" text-anchor="start">6</text>
<text x="561" y="113" font-size="14" text-anchor="end">5</text>
<text x="999" y="113" font-size="14" text-anchor="start">5</text>
<text x="561" y="130" font-size="14" text-anchor="end">4</text>
<text x="999" y="130" font-size="14" text-anchor="start">4</text>
<text x="561" y="148" font-size="14" text-anchor="end">3</text>
<text x="999" y="148" font-size="14" text-anchor="start">3</text>
<text x="561" y="165" font-size="14" text-anchor="end">2</text>
<text x="999" y="165" font-size="14" text-anchor="start">2</text>
<text x="561" y="182" font-size="14" text-anchor="end">1</text>
<text x="999" y="182" font-size="14" text-anchor="start">1</text>
<text x="561" y="199" font-size="14" text-anchor="end">0</text>
<text x="999" y="199" font-size="14" text-anchor="start">0</text>
<text x="566.5" y="211" font-size="14" text-anchor="middle">0</text>
<text x="602.5" y="211" font-size="14" text-anchor="middle">2</text>
<text x="637.5" y="211" font-size="14" text-anchor="middle">4</text>
<text x="673.5" y="211" font-size="14" text-anchor="middle">6</text>
<text x="708.5" y="211" font-size="14" text-anchor="middle">8</text>
<text x="744.5" y="211" font-size="14" text-anchor="middle">10</text>
<text x="779.5" y="211" font-size="14" text-anchor="middle">12</text>
<text x="815.5" y="211" font-size="14" text-anchor="middle">14</text>
<text x="850.5" y="211" font-size="14" text-anchor="middle">16</text>
<text x="885.5" y="211" font-size="14" text-anchor="middle">18</text>
<text x="921.5" y="211" font-size="14" text-anchor="middle">20</text>
<text x="956.5" y="211" font-size="14" text-anchor="middle">22</text>
<text x="992.5" y="211" font-size="14" text-anchor="middle">24</text>
<text x="54" y="256" font-size="14" text-anchor="end">100</text>
<text x="492" y="256" font-size="14" text-anchor="start">100</text>
<text x="54" y="268" font-size="14" text-anchor="end">90</text>
<text x="492" y="268" font-size="14" text-anchor="start">90</text>
<text x="54" y="280" font-size="14" text-anchor="end">80</text>
<text x="492" y="280" font-size="14" text-anchor="start">80</text>
<text x="54" y="292" font-size="14" text-anchor="end">70</text>
<text x="492" y="292" font-size="14" text-anchor="start">70</text>
<text x="54" y="304" font-size="14" text-anchor="end">60</text>
<text x="492" y="304" font-size="14" text-anchor="start">60</text>
<text x="54" y="316" font-size="14" text-anchor="end">50</text>
<text x="492" y="316" font-size="14" text-anchor="start">50</text>
<text x="54" y="328" font-size="14" text-anchor="end">40</text>
<text x="492" y="328" font-size="14" text-anchor="start">40</text>
<text x="54" y="340" font-size="14" text-anchor="end">30</text>
<text x="492" y="340" font-size="14" text-anchor="start">30</text>
<text x="54" y="352" font-size="14" text-anchor="end">20</text>
<text x="492" y="352" font-size="14" text-anchor="start">20</text>
<text x="54" y="364" font-size="14" text-anchor="end">10</text>
<text x="492" y="364" font-size="14" text-anchor="start">10</text>
<text x="54" y="376" font-size="14" text-anchor="end">0</text>
<text x="492" y="376" font-size="14" text-anchor="start">0</text>
<text x="60.5" y="388" font-size="14" text-anchor="middle">0</text>
<text x="95.5" y="388" font-size="14" text-anchor="middle">2</text>
<text x="131.5" y="388" font-size="14" text-anchor="middle">4</text>
<text x="166.5" y="388" font-size="14" text-anchor="middle">6</text>
<text x="201.5" y="388" font-size="14" text-anchor="middle">8</text>
<text x="237.5" y="388" font-size="14" text-anchor="middle">10</text>
<text x="272.5" y="388" font-size="14" text-anchor="middle">12</text>
<text x="308.5" y="388" font-size="14" text-anchor="middle">14</text>
<text x="343.5" y="388" font-size="14" text-anchor="middle">16</text>
<text x="379.5" y="388" font-size="14" text-anchor="middle">18</text>
<text x="414.5" y="388" font-size="14" text-anchor="middle">20</text>
<text x="450.5" y="388" font-size="14" text-anchor="middle">22</text>
<text x="485.5" y="388" font-size="14" text-anchor="middle">24</text>
<text x="561" y="256" font-size="14" text-anchor="end">360</text>
<text x="561" y="271" font-size="14" text-anchor="end">315</text>
<text x="561" y="286" font-size="14" text-anchor="end">270</text>
<text x="561" y="301" font-size="14" text-anchor="end">225</text>
<text x="561" y="316" font-size="14" text-anchor="end">180</text>
<text x="561" y="331" font-size="14" text-anchor="end">135</text>
<text x="561" y="346" font-size="14" text-anchor="end">90</text>
<text x="561" y="361" font-size="14" text-anchor="end">45</text>
<text x="561" y="376" font-size="14" text-anchor="end">0</text>
<text x="999" y="256" font-size="14" text-anchor="start">N</text>
<text x="999" y="271" font-size="14" text-anchor="start">NW</text>
<text x="999" y="286" font-size="14" text-anchor="start">W</text>
<text x="999" y="301" font-size="14" text-anchor="start">SW</text>
<text x="999" y="316" font-size="14" text-anchor="start">S</text>
<text x="999" y="331" font-size="14" text-anchor="start">SE</text>
<text x="999" y="346" font-size="14" text-anchor="start">E</text>
<text x="999" y="361" font-size="14" text-anchor="start">NE</text>
<text x="999" y="376" font-size="14" text-anchor="start">N</text>
<text x="566.5" y="388" font-size="14" text-anchor="middle">0</text>
<text x="602.5" y="388" font-size="14" text-anchor="middle">2</text>
<text x="637.5" y="388" font-size="14" text-anchor="middle">4</text>
<text x="673.5" y="388" font-size="14" text-anchor="middle">6</text>
<text x="708.5" y="388" font-size="14" text-anchor="middle">8</text>
<text x="744.5" y="388" font-size="14" text-anchor="middle">10</text>
<text x="779.5" y="388" font-size="14" text-anchor="middle">12</text>
<text x="815.5" y="388" font-size="14" text-anchor="middle">14</text>
<text x="850.5" y="388" font-size="14" text-anchor="middle">16</text>
<text x="885.5" y="388" font-size="14" text-anchor="middle">18</text>
<text x="921.5" y="388" font-size="14" text-anchor="middle">20</text>
<text x="956.5" y="388" font-size="14" text-anchor="middle">22</text>
<text x="992.5" y="388" font-size="14" text-anchor="middle">24</text>
<text x="54" y="433" font-size="14" text-anchor="end">900</text>
<text x="54" y="446" font-size="14" text-anchor="end">800</text>
<text x="54" y="460" font-size="14" text-anchor="end">700</text>
<text x="54" y="473" font-size="14" text-anchor="end">600</text>
<text x="54" y="486" font-size="14" text-anchor="end">500</text>
<text x="54" y="500" font-size="14" text-anchor="end">400</text>
<text x="54" y="513" font-size="14" text-anchor="end">300</text>
<text x="54" y="526" font-size="14" text-anchor="end">200</text>
<text x="54" y="540" font-size="14" text-anchor="end">100</text>
<text x="54" y="553" font-size="14" text-anchor="end">0</text>
<text x="60.5" y="565" font-size="14" text-anchor="middle">0</text>
<text x="95.5" y="565" font-size="14" text-anchor="middle">2</text>
<text x="131.5" y="565" font-size="14" text-anchor="middle">4</text>
<text x="166.5" y="565" font-size="14" text-anchor="middle">6</text>
<text x="201.5" y="565" font-size="14" text-anchor="middle">8</text>
<text x="237.5" y="565" font-size="14" text-anchor="middle">10</text>
<text x="272.5" y="565" font-size="14" text-anchor="middle">12</text>
<text x="308.5" y="565" font-size="14" text-anchor="middle">14</text>
<text x="343.5" y="565" font-size="14" text-anchor="middle">16</text>
<text x="379.5" y="565" font-size="14" text-anchor="middle">18</text>
<text x="414.5" y="565" font-size="14" text-anchor="middle">20</text>
<text x="450.5" y="565" font-size="14" text-anchor="middle">22</text>
<text x="485.5" y="565" font-size="14" text-anchor="middle">24</text>
<text x="561" y="440" font-size="14" text-anchor="end">760</text>
<text x="561" y="459" font-size="14" text-anchor="end">755</text>
<text x="561" y="478" font-size="14" text-anchor="end">750</text>
<text x="561" y="496" font-size="14" text-anchor="end">745</text>
<text x="561" y="515" font-size="14" text-anchor="end">740</text>
<text x="561" y="534" font-size="14" text-anchor="end">735</text>
<text x="561" y="553" font-size="14" text-anchor="end">730</text>
<text x="566.5" y="565" font-size="14" text-anchor="middle">0</text>
<text x="602.5" y="565" font-size="14" text-anchor="middle">2</text>
<text x="637.5" y="565" font-size="14" text-anchor="middle">4</text>
<text x="673.5" y="565" font-size="14" text-anchor="middle">6</text>
<text x="708.5" y="565" font-size="14" text-anchor="middle">8</text>
<text x="744.5" y="565" font-size="14" text-anchor="middle">10</text>
<text x="779.5" y="565" font-size="14" text-anchor="middle">12</text>
<text x="815.5" y="565" font-size="14" text-anchor="middle">14</text>
<text x="850.5" y="565" font-size="14" text-anchor="middle">16</text>
<text x="885.5" y="565" font-size="14" text-anchor="middle">18</text>
<text x="921.5" y="565" font-size="14" text-anchor="middle">20</text>
<text x="956.5" y="565" font-size="14" text-anchor="middle">22</text>
<text x="992.5" y="565" font-size="14" text-anchor="middle">24</text>
<text x="54" y="610" font-size="14" text-anchor="end">0.10</text>
<text x="492" y="610" font-size="14" text-anchor="start">0.10</text>
<text x="54" y="622" font-size="14" text-anchor="end">0.09</text>
<text x="492" y="622" font-size="14" text-anchor="start">0.09</text>
<text x="54" y="634" font-size="14" text-anchor="end">0.08</text>
<text x="492" y="634" font-size="14" text-anchor="start">0.08</text>
<text x="54" y="646" font-size="14" text-anchor="end">0.07</text>
<text x="492" y="646" font-size="14" text-anchor="start">0.07</text>
<text x="54" y="658" font-size="14" text-anchor="end">0.06</text>
<text x="492" y="658" font-size="14" text-anchor="start">0.06</text>
<text x="54" y="670" font-size="14" text-anchor="end">0.05</text>
<text x="492" y="670" font-size="14" text-anchor="start">0.05</text>
<text x="54" y="682" font-size="14" text-anchor="end">0.04</text>
<text x="492" y="682" font-size="14" text-anchor="start">0.04</text>
<text x="54" y="694" font-size="14" text-anchor="end">0.03</text>
<text x="492" y="694" font-size="14" text-anchor="start">0.03</text>
<text x="54" y="706" font-size="14" text-anchor="end">0.02</text>
<text x="492" y="706" font-size="14" text-anchor="start">0.02</text>
<text x="54" y="718" font-size="14" text-anchor="end">0.01</text>
<text x="492" y="718" font-size="14" text-anchor="start">0.01</text>
<text x="54" y="730" font-size="14" text-anchor="end">0.00</text>
<text x="492" y="730" font-size="14" text-anchor="start">0.00</text>
<text x="60.5" y="742" font-size="14" text-anchor="middle">0</text>
<text x="95.5" y="742" font-size="14" text-anchor="middle">2</text>
<text x="131.5" y="742" font-size="14" text-anchor="middle">4</text>
<text x="166.5" y="742" font-size="14" text-anchor="middle">6</text>
<text x="201.5" y="742" font-size="14" text-anchor="middle">8</text>
<text x="237.5" y="742" font-size="14" text-anchor="middle">10</text>
<text x="272.5" y="742" font-size="14" text-anchor="middle">12</text>
<text x="308.5" y="742" font-size="14" text-anchor="middle">14</text>
<text x="343.5" y="742" font-size="14" text-anchor="middle">16</text>
<text x="379.5" y="742" font-size="14" text-anchor="middle">18</text>
<text x="414.5" y="742" font-size="14" text-anchor="middle">20</text>
<text x="450.5" y="742" font-size="14" text-anchor="middle">22</text>
<text x="485.5" y="742" font-size="14" text-anchor="middle">24</text>
<text x="531.5" y="23" font-size="18" text-anchor="middle" textLength="466" lengthAdjust="spacingAndGlyphs">Ghost Mine Ranch Weather Observations: 12/28/14 11:55p</text>
<text x="271" y="59" font-size="16" text-anchor="middle" textLength="190" lengthAdjust="spacingAndGlyphs">Temperature and Dewpoint</text>
<text x="779.5" y="59" font-size="16" text-anchor="middle" textLength="197" lengthAdjust="spacingAndGlyphs">Wind Speed and Peak Gust</text>
<text x="272.5" y="236" font-size="16" text-anchor="middle" textLength="124" lengthAdjust="spacingAndGlyphs">Relative Humidity</text>
<text x="779.5" y="239" font-size="16" text-anchor="middle" textLength="106" lengthAdjust="spacingAndGlyphs">Wind Direction</text>
<text x="273" y="417" font-size="16" text-anchor="middle" textLength="114" lengthAdjust="spacingAndGlyphs">Solar Irradiance</text>
<text x="779.5" y="417" font-size="16" text-anchor="middle" textLength="90" lengthAdjust="spacingAndGlyphs">Air Pressure</text>
<text x="273" y="594" font-size="16" text-anchor="middle" textLength="307" lengthAdjust="spacingAndGlyphs">24 hour Accumulated Rainfall or Snow Melt</text>
<text x="779.5" y="581" font-size="16" text-anchor="middle" textLength="125" lengthAdjust="spacingAndGlyphs">Local Time (hour)</text>
<text x="273.2" y="758" font-size="16" text-anchor="middle" textLength="125" lengthAdjust="spacingAndGlyphs">Local Time (hour)</text>
<text transform="translate(30,134) rotate(-90)" font-size="14" text-anchor="middle">Fahrenheit</text>
<text transform="translate(548.5,133.5) rotate(-90)" font-size="14" text-anchor="middle">miles/hour</text>
<text transform="translate(34.5,311.5) rotate(-90)" font-size="14" text-anchor="middle">Percent</text>
<text transform="translate(530.5,311) rotate(-90)" font-size="14" text-anchor="middle">degrees</text>
<text transform="translate(533.5,488) rotate(-90)" font-size="14" text-anchor="middle">millibars</text>
<text transform="translate(22.5,665.5) rotate(-90)" font-size="14" text-anchor="middle">Inches</text>
<text transform="translate(26,491) rotate(-90)" font-size="14" text-anchor="middle">W/m</text>
<text transform="translate(18,473.5) rotate(-90)" font-size="10" text-anchor="middle">2</text>
</g>
</svg></body></html>
